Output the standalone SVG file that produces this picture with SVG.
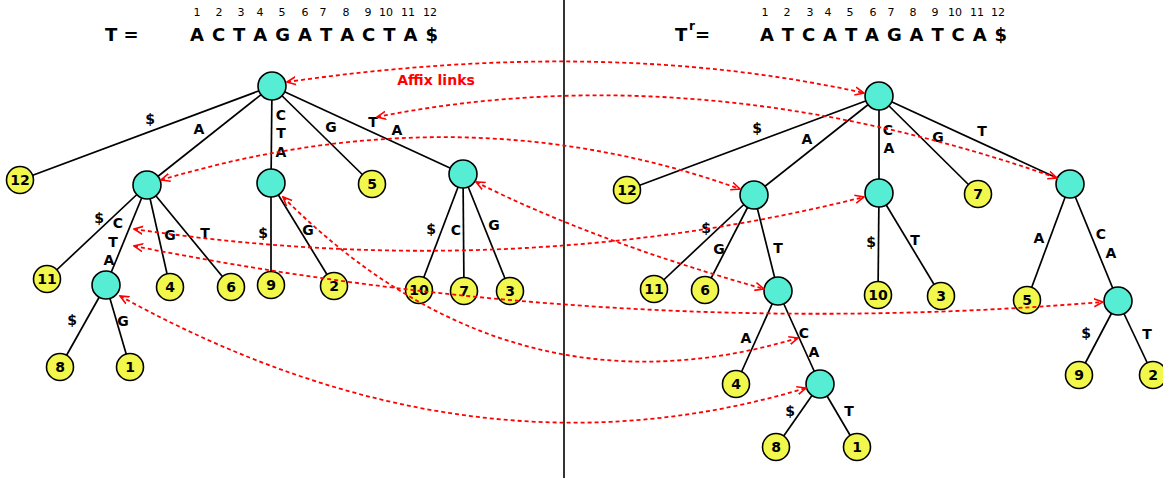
<svg xmlns="http://www.w3.org/2000/svg" width="1163" height="480" viewBox="0 0 1163 480">
<style>
text{font-family:"DejaVu Sans","Liberation Sans",sans-serif;font-weight:bold;fill:#000}
.hdr{font-size:18px}
.num{font-size:11px;font-weight:normal;text-anchor:middle}
.lbl{font-size:14px;text-anchor:middle}
.in{fill:#55eed5;stroke:#000;stroke-width:1.6}
.lf{fill:#f2f74b;stroke:#000;stroke-width:1.6}
.lt{font-size:14px;text-anchor:middle}
.e{stroke:#000;stroke-width:1.7;fill:none}
.link{stroke:#f00;stroke-width:1.8;fill:none;stroke-dasharray:4,3;marker-start:url(#ah);marker-end:url(#ah)}
</style>
<defs>
<marker id="ah" viewBox="0 0 10 10" refX="9" refY="5" markerWidth="10" markerHeight="10" markerUnits="userSpaceOnUse" orient="auto-start-reverse">
<path d="M0,1 L9,5 L0,9" fill="none" stroke="#f00" stroke-width="1.6"/>
</marker>
</defs>
<rect width="1163" height="480" fill="#fff"/>
<!-- headers -->
<g id="header-left">
<text class="hdr" x="105" y="41">T =</text>
<text class="hdr" x="190" y="41" textLength="248" lengthAdjust="spacing">A C T A G A T A C T A $</text>
<text class="num" x="197" y="16">1</text><text class="num" x="219" y="16">2</text><text class="num" x="241" y="16">3</text><text class="num" x="260" y="16">4</text><text class="num" x="282" y="16">5</text><text class="num" x="305" y="16">6</text><text class="num" x="323" y="16">7</text><text class="num" x="346" y="16">8</text><text class="num" x="368" y="16">9</text><text class="num" x="386" y="16">10</text><text class="num" x="408" y="16">11</text><text class="num" x="430" y="16">12</text>
</g>
<g id="header-right">
<text class="hdr" x="675" y="41">T</text>
<text x="689" y="30" style="font-size:12px">r</text>
<text class="hdr" x="695" y="41">=</text>
<text class="hdr" x="760" y="41" textLength="247" lengthAdjust="spacing">A T C A T A G A T C A $</text>
<text class="num" x="765" y="16">1</text><text class="num" x="787" y="16">2</text><text class="num" x="810" y="16">3</text><text class="num" x="828" y="16">4</text><text class="num" x="850" y="16">5</text><text class="num" x="873" y="16">6</text><text class="num" x="891" y="16">7</text><text class="num" x="913" y="16">8</text><text class="num" x="935" y="16">9</text><text class="num" x="955" y="16">10</text><text class="num" x="977" y="16">11</text><text class="num" x="998" y="16">12</text>
</g>
<line x1="564" y1="0" x2="564" y2="478" stroke="#000" stroke-width="1.6"/>
<!-- tree edges -->
<g id="edges">
<line class="e" x1="272" y1="86" x2="20" y2="180"/>
<line class="e" x1="272" y1="86" x2="147" y2="185"/>
<line class="e" x1="272" y1="86" x2="271" y2="183"/>
<line class="e" x1="272" y1="86" x2="372" y2="184"/>
<line class="e" x1="272" y1="86" x2="463" y2="174"/>
<line class="e" x1="147" y1="185" x2="47" y2="279"/>
<line class="e" x1="147" y1="185" x2="106" y2="285"/>
<line class="e" x1="147" y1="185" x2="170" y2="287"/>
<line class="e" x1="147" y1="185" x2="231" y2="287"/>
<line class="e" x1="106" y1="285" x2="60" y2="367"/>
<line class="e" x1="106" y1="285" x2="130" y2="367"/>
<line class="e" x1="271" y1="183" x2="271" y2="285"/>
<line class="e" x1="271" y1="183" x2="334" y2="286"/>
<line class="e" x1="463" y1="174" x2="419" y2="290"/>
<line class="e" x1="463" y1="174" x2="464" y2="291"/>
<line class="e" x1="463" y1="174" x2="510" y2="291"/>
<line class="e" x1="879" y1="96" x2="627" y2="190"/>
<line class="e" x1="879" y1="96" x2="754" y2="195"/>
<line class="e" x1="879" y1="96" x2="879" y2="193"/>
<line class="e" x1="879" y1="96" x2="978" y2="194"/>
<line class="e" x1="879" y1="96" x2="1070" y2="184"/>
<line class="e" x1="754" y1="195" x2="654" y2="289"/>
<line class="e" x1="754" y1="195" x2="705" y2="290"/>
<line class="e" x1="754" y1="195" x2="778" y2="291"/>
<line class="e" x1="778" y1="291" x2="736" y2="384"/>
<line class="e" x1="778" y1="291" x2="820" y2="384"/>
<line class="e" x1="820" y1="384" x2="776" y2="447"/>
<line class="e" x1="820" y1="384" x2="857" y2="447"/>
<line class="e" x1="879" y1="193" x2="878" y2="295"/>
<line class="e" x1="879" y1="193" x2="941" y2="296"/>
<line class="e" x1="1070" y1="184" x2="1027" y2="300"/>
<line class="e" x1="1070" y1="184" x2="1118" y2="301"/>
<line class="e" x1="1118" y1="301" x2="1079" y2="375"/>
<line class="e" x1="1118" y1="301" x2="1153" y2="375"/>
</g>
<!-- edge labels -->
<g id="edge-labels">
<text class="lbl" x="150" y="124">$</text>
<text class="lbl" x="199" y="134">A</text>
<text class="lbl" x="281" y="120">C</text>
<text class="lbl" x="281" y="138">T</text>
<text class="lbl" x="281" y="157">A</text>
<text class="lbl" x="331" y="132">G</text>
<text class="lbl" x="373" y="127">T</text>
<text class="lbl" x="397" y="135">A</text>
<text class="lbl" x="99" y="223">$</text>
<text class="lbl" x="118" y="228">C</text>
<text class="lbl" x="113" y="247">T</text>
<text class="lbl" x="109" y="265">A</text>
<text class="lbl" x="170" y="240">G</text>
<text class="lbl" x="205" y="238">T</text>
<text class="lbl" x="72" y="325">$</text>
<text class="lbl" x="123" y="326">G</text>
<text class="lbl" x="263" y="238">$</text>
<text class="lbl" x="308" y="235">G</text>
<text class="lbl" x="431" y="234">$</text>
<text class="lbl" x="456" y="235">C</text>
<text class="lbl" x="494" y="230">G</text>
<text class="lbl" x="757" y="133">$</text>
<text class="lbl" x="807" y="144">A</text>
<text class="lbl" x="888" y="135">C</text>
<text class="lbl" x="889" y="153">A</text>
<text class="lbl" x="938" y="142">G</text>
<text class="lbl" x="982" y="136">T</text>
<text class="lbl" x="706" y="233">$</text>
<text class="lbl" x="719" y="254">G</text>
<text class="lbl" x="778" y="253">T</text>
<text class="lbl" x="871" y="247">$</text>
<text class="lbl" x="915" y="245">T</text>
<text class="lbl" x="1039" y="243">A</text>
<text class="lbl" x="1101" y="239">C</text>
<text class="lbl" x="1111" y="258">A</text>
<text class="lbl" x="746" y="343">A</text>
<text class="lbl" x="804" y="338">C</text>
<text class="lbl" x="814" y="357">A</text>
<text class="lbl" x="1086" y="338">$</text>
<text class="lbl" x="1147" y="339">T</text>
<text class="lbl" x="790" y="416">$</text>
<text class="lbl" x="849" y="416">T</text>
</g>
<!-- left tree nodes -->
<g id="L-root"><circle class="in" cx="272" cy="86" r="14"/></g>
<g id="L-A"><circle class="in" cx="147" cy="185" r="14"/></g>
<g id="L-CTA"><circle class="in" cx="271" cy="183" r="14"/></g>
<g id="L-TA"><circle class="in" cx="463" cy="174" r="14"/></g>
<g id="L-ACTA"><circle class="in" cx="106" cy="285" r="14"/></g>
<g id="L-12"><circle class="lf" cx="20" cy="180" r="13.5"/><text class="lt" x="20" y="185">12</text></g>
<g id="L-5"><circle class="lf" cx="372" cy="184" r="13.5"/><text class="lt" x="372" y="189">5</text></g>
<g id="L-11"><circle class="lf" cx="47" cy="279" r="13.5"/><text class="lt" x="47" y="284">11</text></g>
<g id="L-4"><circle class="lf" cx="170" cy="287" r="13.5"/><text class="lt" x="170" y="292">4</text></g>
<g id="L-6"><circle class="lf" cx="231" cy="287" r="13.5"/><text class="lt" x="231" y="292">6</text></g>
<g id="L-9"><circle class="lf" cx="271" cy="285" r="13.5"/><text class="lt" x="271" y="290">9</text></g>
<g id="L-2"><circle class="lf" cx="334" cy="286" r="13.5"/><text class="lt" x="334" y="291">2</text></g>
<g id="L-10"><circle class="lf" cx="419" cy="290" r="13.5"/><text class="lt" x="419" y="295">10</text></g>
<g id="L-7"><circle class="lf" cx="464" cy="291" r="13.5"/><text class="lt" x="464" y="296">7</text></g>
<g id="L-3"><circle class="lf" cx="510" cy="291" r="13.5"/><text class="lt" x="510" y="296">3</text></g>
<g id="L-8"><circle class="lf" cx="60" cy="367" r="13.5"/><text class="lt" x="60" y="372">8</text></g>
<g id="L-1"><circle class="lf" cx="130" cy="367" r="13.5"/><text class="lt" x="130" y="372">1</text></g>
<!-- right tree nodes -->
<g id="R-root"><circle class="in" cx="879" cy="96" r="14"/></g>
<g id="R-A"><circle class="in" cx="754" cy="195" r="14"/></g>
<g id="R-CA"><circle class="in" cx="879" cy="193" r="14"/></g>
<g id="R-T"><circle class="in" cx="1070" cy="184" r="14"/></g>
<g id="R-AT"><circle class="in" cx="778" cy="291" r="14"/></g>
<g id="R-ATCA"><circle class="in" cx="820" cy="384" r="14"/></g>
<g id="R-TCA"><circle class="in" cx="1118" cy="301" r="14"/></g>
<g id="R-12"><circle class="lf" cx="627" cy="190" r="13.5"/><text class="lt" x="627" y="195">12</text></g>
<g id="R-7"><circle class="lf" cx="978" cy="194" r="13.5"/><text class="lt" x="978" y="199">7</text></g>
<g id="R-11"><circle class="lf" cx="654" cy="289" r="13.5"/><text class="lt" x="654" y="294">11</text></g>
<g id="R-6"><circle class="lf" cx="705" cy="290" r="13.5"/><text class="lt" x="705" y="295">6</text></g>
<g id="R-10"><circle class="lf" cx="878" cy="295" r="13.5"/><text class="lt" x="878" y="300">10</text></g>
<g id="R-3"><circle class="lf" cx="941" cy="296" r="13.5"/><text class="lt" x="941" y="301">3</text></g>
<g id="R-5"><circle class="lf" cx="1027" cy="300" r="13.5"/><text class="lt" x="1027" y="305">5</text></g>
<g id="R-4"><circle class="lf" cx="736" cy="384" r="13.5"/><text class="lt" x="736" y="389">4</text></g>
<g id="R-9"><circle class="lf" cx="1079" cy="375" r="13.5"/><text class="lt" x="1079" y="380">9</text></g>
<g id="R-2"><circle class="lf" cx="1153" cy="375" r="13.5"/><text class="lt" x="1153" y="380">2</text></g>
<g id="R-8"><circle class="lf" cx="776" cy="447" r="13.5"/><text class="lt" x="776" y="452">8</text></g>
<g id="R-1"><circle class="lf" cx="857" cy="447" r="13.5"/><text class="lt" x="857" y="452">1</text></g>
<!-- affix links -->
<g id="affix-links">
<path class="link" d="M287,82 Q606,36 864,93"/>
<path class="link" d="M377,117 Q699,53 1057,178"/>
<path class="link" d="M161,180 Q463,90 740,189"/>
<path class="link" d="M134,229 Q511,285 864,197"/>
<path class="link" d="M134,246 Q618,342 1103,302"/>
<path class="link" d="M476,182 Q591,240 764,289"/>
<path class="link" d="M283,197 Q510,424 798,338"/>
<path class="link" d="M120,296 Q470,489 806,388"/>
<text x="436" y="85" style="font-size:14px;fill:#f00;text-anchor:middle">Affix links</text>
</g>
</svg>
